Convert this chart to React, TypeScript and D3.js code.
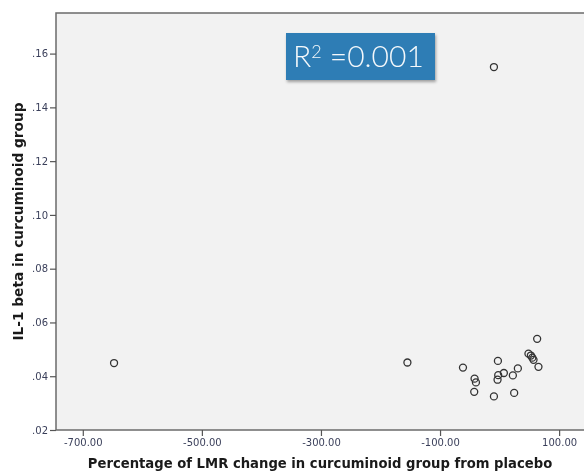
import React, { useEffect, useRef } from 'react';
import * as d3 from 'd3';

// LMR change (%) vs IL-1 beta
const lmrChange = [-647.5, -9.5, -154.8, -61.5, -42, -39.7, -42.6, -9.5, -2.8, -2.3, -3.4, 7.2, 22.3, 30.7, 24.5, 63.1, 48.5, 52.5, 55, 57, 65.3];
const il1Beta = [0.0449, 0.155, 0.0451, 0.0432, 0.0391, 0.0377, 0.0342, 0.0325, 0.0457, 0.0404, 0.0387, 0.0412, 0.0403, 0.0429, 0.0338, 0.0539, 0.0484, 0.0477, 0.0469, 0.0461, 0.0435];

const xTicks = [-700, -500, -300, -100, 100];
const yTicks = [0.02, 0.04, 0.06, 0.08, 0.1, 0.12, 0.14, 0.16];
const rSquared = '0.001';

function App() {
  const svgRef = useRef<SVGSVGElement>(null);

  useEffect(() => {
    const root = d3.select(svgRef.current);
    root.selectAll('*').remove();

    const width = 584;
    const height = 474;
    const margin = { top: 13, right: -4, bottom: 44, left: 56 };

    root.attr('width', width).attr('height', height);

    const x = d3.scaleLinear()
      .domain([-745, 148.5])
      .range([margin.left, width - margin.right]);

    const y = d3.scaleLinear()
      .domain([0.02, 0.1751])
      .range([height - margin.bottom, margin.top]);

    // Plot background
    root.append('rect')
      .attr('x', margin.left)
      .attr('y', margin.top)
      .attr('width', width - margin.right - margin.left)
      .attr('height', height - margin.bottom - margin.top)
      .attr('fill', '#f2f2f2')
      .attr('stroke', '#6b6b6b')
      .attr('stroke-width', 1.5);

    // X axis
    const xAxis = root.append('g')
      .attr('transform', `translate(0,${height - margin.bottom})`)
      .call(d3.axisBottom(x).tickValues(xTicks).tickSize(6).tickPadding(3)
        .tickFormat(d => (d as number).toFixed(2)));
    xAxis.select('.domain').remove();
    xAxis.selectAll('line').attr('stroke', '#555').attr('stroke-width', 1.2);
    xAxis.selectAll('text')
      .attr('fill', '#3a3f5a')
      .style('font-family', 'DejaVu Sans, sans-serif')
      .style('font-size', '10px');

    // Y axis
    const yAxis = root.append('g')
      .attr('transform', `translate(${margin.left},0)`)
      .call(d3.axisLeft(y).tickValues(yTicks).tickSize(6).tickPadding(2)
        .tickFormat(d => (d as number).toFixed(2).replace(/^0/, '')));
    yAxis.select('.domain').remove();
    yAxis.selectAll('line').attr('stroke', '#555').attr('stroke-width', 1.2);
    yAxis.selectAll('text')
      .attr('fill', '#3a3f5a')
      .style('font-family', 'DejaVu Sans, sans-serif')
      .style('font-size', '10px');

    // Points
    root.append('g')
      .selectAll('circle')
      .data(lmrChange.map((v, i) => ({ x: v, y: il1Beta[i] })))
      .join('circle')
      .attr('cx', d => x(d.x))
      .attr('cy', d => y(d.y))
      .attr('r', 3.5)
      .attr('fill', 'none')
      .attr('stroke', '#333')
      .attr('stroke-width', 1.3);

    // Axis titles
    root.append('text')
      .attr('x', 320)
      .attr('y', 468)
      .attr('text-anchor', 'middle')
      .style('font-family', 'DejaVu Sans, sans-serif')
      .style('font-weight', 'bold')
      .style('font-size', '13.2px')
      .attr('fill', '#1a1a1a')
      .text('Percentage of LMR change in curcuminoid group from placebo');

    root.append('text')
      .attr('transform', `translate(23,${(margin.top + height - margin.bottom) / 2}) rotate(-90)`)
      .attr('text-anchor', 'middle')
      .style('font-family', 'DejaVu Sans, sans-serif')
      .style('font-weight', 'bold')
      .style('font-size', '13.7px')
      .attr('fill', '#1a1a1a')
      .text('IL-1 beta in curcuminoid group');

    // R² label box
    const defs = root.append('defs');
    const filter = defs.append('filter').attr('id', 'shadow').attr('x', '-10%').attr('y', '-20%').attr('width', '130%').attr('height', '150%');
    filter.append('feDropShadow').attr('dx', 1).attr('dy', 2).attr('stdDeviation', 1.5).attr('flood-color', '#000').attr('flood-opacity', 0.35);

    const box = root.append('g');
    box.append('rect')
      .attr('x', 286)
      .attr('y', 33)
      .attr('width', 149)
      .attr('height', 47)
      .attr('fill', '#2f7db5')
      .attr('filter', 'url(#shadow)');
    const label = box.append('text')
      .attr('x', 293)
      .attr('y', 67)
      .attr('fill', '#f4f8fb')
      .style('font-family', 'Lato, Liberation Sans, Arial, sans-serif')
      .style('font-weight', 300)
      .style('font-size', '30px');
    label.append('tspan').text('R');
    label.append('tspan').attr('dy', -9).style('font-size', '18px').text('2');
    label.append('tspan').attr('dy', 9).text(` =${rSquared}`);
  }, []);

  return (
    <div style={{ position: 'fixed', left: 0, top: 0, width: 584, height: 474, overflow: 'hidden' }}>
      <svg ref={svgRef} style={{ display: 'block' }}></svg>
    </div>
  );
}

export default App;
